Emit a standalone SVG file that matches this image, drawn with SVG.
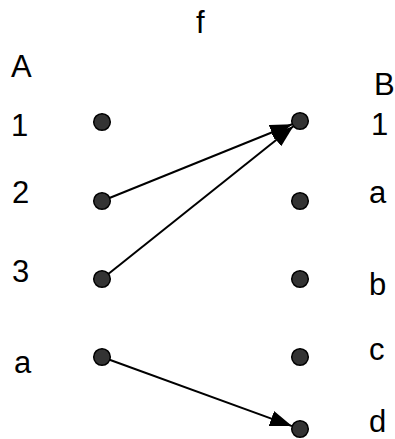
<svg xmlns="http://www.w3.org/2000/svg" width="395" height="439" viewBox="0 0 395 439">
<style>
.lbl{font-family:"Liberation Sans",Arial,sans-serif;font-size:31px;fill:#000}
.dot{fill:#333;stroke:#000;stroke-width:1.5}
.edge{stroke:#000;stroke-width:2;fill:none;marker-end:url(#ah)}
</style>
<defs>
<marker id="ah" markerUnits="userSpaceOnUse" markerWidth="22" markerHeight="16" refX="22" refY="8" orient="auto">
<path d="M0,0 L22,8 L0,16 z" fill="#000"/>
</marker>
</defs>
<rect width="395" height="439" fill="#fff"/>
<g id="titles">
<text class="lbl" x="196" y="33">f</text>
<text class="lbl" x="11" y="77">A</text>
<text class="lbl" x="374" y="95">B</text>
</g>
<g id="connectors">
<line class="edge" x1="102" y1="201" x2="292.1" y2="124.2"/>
<line class="edge" x1="102" y1="279" x2="293.4" y2="126.3"/>
<line class="edge" x1="102" y1="357" x2="292" y2="426.1"/>
</g>
<g id="A1"><circle class="dot" cx="102" cy="122" r="8.3"/><text class="lbl" x="11" y="136">1</text></g>
<g id="A2"><circle class="dot" cx="102" cy="201" r="8.3"/><text class="lbl" x="12" y="203">2</text></g>
<g id="A3"><circle class="dot" cx="102" cy="279" r="8.3"/><text class="lbl" x="12" y="282">3</text></g>
<g id="Aa"><circle class="dot" cx="102" cy="357" r="8.3"/><text class="lbl" x="14" y="373">a</text></g>
<g id="B1"><circle class="dot" cx="300" cy="121" r="8.3"/><text class="lbl" x="371" y="135">1</text></g>
<g id="Ba"><circle class="dot" cx="300" cy="201" r="8.3"/><text class="lbl" x="369" y="203">a</text></g>
<g id="Bb"><circle class="dot" cx="300" cy="279" r="8.3"/><text class="lbl" x="369" y="295">b</text></g>
<g id="Bc"><circle class="dot" cx="300" cy="357" r="8.3"/><text class="lbl" x="369" y="360">c</text></g>
<g id="Bd"><circle class="dot" cx="300" cy="429" r="8.3"/><text class="lbl" x="369" y="432">d</text></g>
</svg>
